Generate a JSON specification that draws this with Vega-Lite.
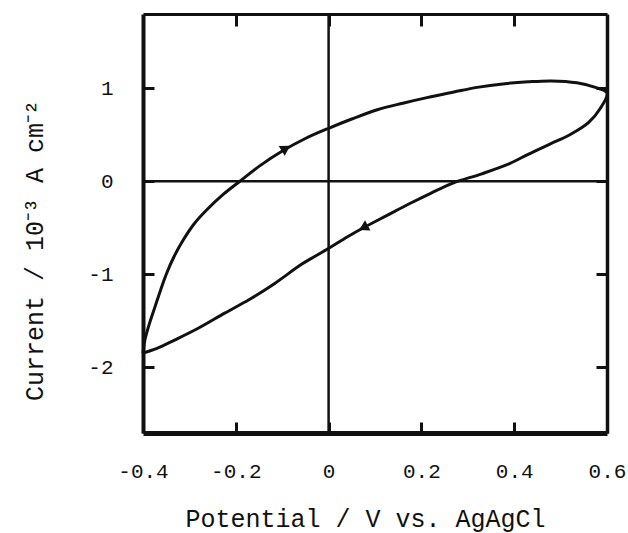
{
  "$schema": "https://vega.github.io/schema/vega-lite/v6.json",
  "width": 464,
  "height": 419,
  "autosize": {"type": "none"},
  "padding": {"left": 143, "top": 14, "right": 21, "bottom": 100},
  "background": "white",
  "config": {
    "view": {"stroke": null},
    "font": "Liberation Mono",
    "axis": {"grid": false, "domainColor": "#111", "tickColor": "#111", "labelColor": "#111", "titleColor": "#111", "labelFont": "Liberation Mono", "titleFont": "Liberation Mono", "labelFontWeight": "normal", "titleFontWeight": "normal"}
  },
  "datasets": {
    "cv": [
      {"s": 1, "v": -0.400, "i": -1.85},
      {"s": 2, "v": -0.396, "i": -1.71},
      {"s": 3, "v": -0.386, "i": -1.53},
      {"s": 4, "v": -0.374, "i": -1.35},
      {"s": 5, "v": -0.362, "i": -1.17},
      {"s": 6, "v": -0.349, "i": -0.99},
      {"s": 7, "v": -0.333, "i": -0.81},
      {"s": 8, "v": -0.313, "i": -0.63},
      {"s": 9, "v": -0.290, "i": -0.46},
      {"s": 10, "v": -0.263, "i": -0.31},
      {"s": 11, "v": -0.229, "i": -0.15},
      {"s": 12, "v": -0.191, "i": 0.00},
      {"s": 13, "v": -0.150, "i": 0.16},
      {"s": 14, "v": -0.098, "i": 0.33},
      {"s": 15, "v": -0.050, "i": 0.46},
      {"s": 16, "v": 0.000, "i": 0.57},
      {"s": 17, "v": 0.050, "i": 0.67},
      {"s": 18, "v": 0.105, "i": 0.77},
      {"s": 19, "v": 0.160, "i": 0.84},
      {"s": 20, "v": 0.212, "i": 0.90},
      {"s": 21, "v": 0.270, "i": 0.96},
      {"s": 22, "v": 0.320, "i": 1.01},
      {"s": 23, "v": 0.380, "i": 1.05},
      {"s": 24, "v": 0.430, "i": 1.07},
      {"s": 25, "v": 0.480, "i": 1.08},
      {"s": 26, "v": 0.535, "i": 1.06},
      {"s": 27, "v": 0.575, "i": 1.01},
      {"s": 28, "v": 0.600, "i": 0.95},
      {"s": 29, "v": 0.585, "i": 0.78},
      {"s": 30, "v": 0.560, "i": 0.63},
      {"s": 31, "v": 0.520, "i": 0.50},
      {"s": 32, "v": 0.477, "i": 0.40},
      {"s": 33, "v": 0.430, "i": 0.29},
      {"s": 34, "v": 0.390, "i": 0.19},
      {"s": 35, "v": 0.330, "i": 0.08},
      {"s": 36, "v": 0.268, "i": -0.02},
      {"s": 37, "v": 0.220, "i": -0.13},
      {"s": 38, "v": 0.175, "i": -0.24},
      {"s": 39, "v": 0.125, "i": -0.37},
      {"s": 40, "v": 0.079, "i": -0.49},
      {"s": 41, "v": 0.040, "i": -0.60},
      {"s": 42, "v": 0.004, "i": -0.71},
      {"s": 43, "v": -0.030, "i": -0.81},
      {"s": 44, "v": -0.060, "i": -0.90},
      {"s": 45, "v": -0.116, "i": -1.10},
      {"s": 46, "v": -0.170, "i": -1.27},
      {"s": 47, "v": -0.224, "i": -1.42},
      {"s": 48, "v": -0.280, "i": -1.58},
      {"s": 49, "v": -0.332, "i": -1.71},
      {"s": 50, "v": -0.370, "i": -1.80},
      {"s": 51, "v": -0.400, "i": -1.85}
    ],
    "arrows": [
      {"sweep": "anodic", "v": -0.092, "i": 0.355},
      {"sweep": "cathodic", "v": 0.075, "i": -0.50}
    ],
    "origin": [
      {"v": 0, "i": 0}
    ]
  },
  "layer": [
    {
      "data": {"name": "cv"},
      "mark": {"type": "line", "color": "#111", "strokeWidth": 3, "strokeJoin": "round", "interpolate": "catmull-rom"},
      "encoding": {
        "x": {
          "field": "v", "type": "quantitative",
          "scale": {"domain": [-0.4, 0.6], "nice": false, "zero": false},
          "axis": {
            "orient": "bottom",
            "values": [-0.4, -0.2, 0, 0.2, 0.4, 0.6],
            "labelExpr": "datum.value == 0 ? '0' : (datum.value < 0 ? '-' : '') + format(abs(datum.value), '.1f')",
            "domainWidth": 5, "tickWidth": 3, "tickSize": -11,
            "labelPadding": 38, "labelFontSize": 21, "labelFlush": false,
            "title": "Potential / V vs. AgAgCl",
            "titleFontSize": 25, "titleX": 222, "titleY": 93,
            "titleBaseline": "alphabetic", "titleAlign": "center", "titleAnchor": null
          }
        },
        "y": {
          "field": "i", "type": "quantitative",
          "scale": {"domain": [-2.71, 1.8], "nice": false, "zero": false},
          "axis": {
            "orient": "left",
            "values": [-2, -1, 0, 1],
            "labelExpr": "(datum.value < 0 ? '-' : '') + format(abs(datum.value), 'd')",
            "domainWidth": 4, "tickWidth": 3, "tickSize": -11,
            "labelPadding": 41, "labelFontSize": 21, "labelFlush": false,
            "title": "Current / 10⁻³ A cm⁻²",
            "titleFontSize": 25, "titleAngle": 270, "titleX": -101, "titleY": 236,
            "titleBaseline": "alphabetic", "titleAlign": "center", "titleAnchor": null
          }
        },
        "order": {"field": "s", "type": "quantitative"}
      }
    },
    {
      "data": {"name": "arrows"},
      "transform": [{"filter": "datum.sweep == 'anodic'"}],
      "mark": {"type": "point", "shape": "triangle-right", "filled": true, "color": "#111", "opacity": 1, "size": 130, "angle": 328},
      "encoding": {
        "x": {"field": "v", "type": "quantitative", "axis": null},
        "y": {"field": "i", "type": "quantitative", "axis": null}
      }
    },
    {
      "data": {"name": "arrows"},
      "transform": [{"filter": "datum.sweep == 'cathodic'"}],
      "mark": {"type": "point", "shape": "triangle-right", "filled": true, "color": "#111", "opacity": 1, "size": 130, "angle": 152},
      "encoding": {
        "x": {"field": "v", "type": "quantitative", "axis": null},
        "y": {"field": "i", "type": "quantitative", "axis": null}
      }
    },
    {
      "data": {"name": "origin"},
      "mark": {"type": "rule", "color": "#111", "strokeWidth": 2.5},
      "encoding": {
        "x": {
          "field": "v", "type": "quantitative",
          "axis": {
            "orient": "top", "values": [-0.2, 0, 0.2, 0.4], "labels": false, "title": null,
            "domainWidth": 3, "tickWidth": 3, "tickSize": -12
          }
        }
      }
    },
    {
      "data": {"name": "origin"},
      "mark": {"type": "rule", "color": "#111", "strokeWidth": 2.5},
      "encoding": {
        "y": {
          "field": "i", "type": "quantitative",
          "axis": {
            "orient": "right", "values": [-2, -1, 0, 1], "labels": false, "title": null,
            "domainWidth": 3.5, "tickWidth": 3, "tickSize": -11
          }
        }
      }
    }
  ],
  "resolve": {"axis": {"x": "independent", "y": "independent"}}
}
